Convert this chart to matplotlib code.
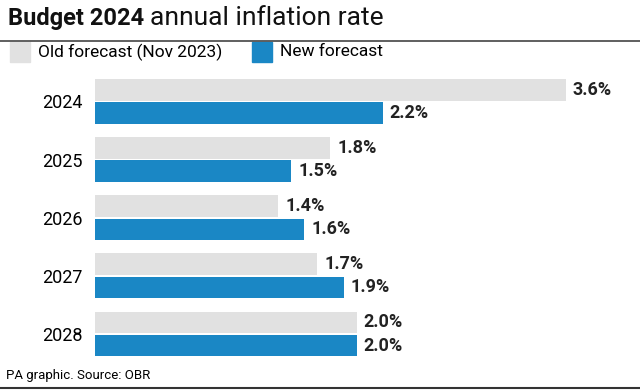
import matplotlib
matplotlib.use("Agg")
import matplotlib.pyplot as plt
from matplotlib.patches import Rectangle
import numpy as np

years = ["2024", "2025", "2026", "2027", "2028"]
old_forecast = [3.6, 1.8, 1.4, 1.7, 2.0]
new_forecast = [2.2, 1.5, 1.6, 1.9, 2.0]
old_labels = ["3.6%", "1.8%", "1.4%", "1.7%", "2.0%"]
new_labels = ["2.2%", "1.5%", "1.6%", "1.9%", "2.0%"]

plt.rcParams['font.family'] = ['Roboto', 'DejaVu Sans']

GREY = "#e1e1e1"
BLUE = "#1a87c5"
W, H = 640, 390
fig = plt.figure(figsize=(W/100, H/100), dpi=100)

def fx(px): return px / W
def fy(py): return 1 - py / H

# Title
t1 = fig.text(fx(8), fy(18), "Budget 2024", fontsize=17, fontweight="bold", va="center", ha="left",
              color="#111111")
fig.canvas.draw()
bb = t1.get_window_extent()
fig.text(bb.x1 / W + fx(6), fy(18), "annual inflation rate", fontsize=19, va="center", ha="left",
         color="#111111")

fig.add_artist(plt.Line2D([0, 1], [fy(41), fy(41)], color="#444444", lw=1.2))

# Legend
fig.add_artist(Rectangle((fx(10), fy(62)), fx(20), 20/H, color=GREY, transform=fig.transFigure))
fig.text(fx(38), fy(52), "Old forecast (Nov 2023)", fontsize=12.5, va="center", ha="left")
fig.add_artist(Rectangle((fx(252), fy(62)), fx(20), 20/H, color=BLUE, transform=fig.transFigure))
fig.text(fx(280), fy(52), "New forecast", fontsize=12.5, va="center", ha="left")

# Axes
ax_top, ax_bot = 72.4, 363.0
ax = fig.add_axes([fx(95), fy(ax_bot), fx(640 - 95), (ax_bot - ax_top) / H])
y = np.arange(len(years))
bh = 0.37
off = 0.2
ax.barh(y - off, old_forecast, height=bh, color=GREY)
ax.barh(y + off, new_forecast, height=bh, color=BLUE)
ax.set_xlim(0, 545 / 130.8)
ax.set_ylim(len(years) - 0.5, -0.5)
for i in range(len(years)):
    ax.annotate(old_labels[i], (old_forecast[i], y[i] - off), xytext=(5, 0), textcoords="offset points",
                va="center", ha="left", fontsize=13, fontweight="bold", color="#222222")
    ax.annotate(new_labels[i], (new_forecast[i], y[i] + off), xytext=(5, 0), textcoords="offset points",
                va="center", ha="left", fontsize=13, fontweight="bold", color="#222222")
ax.set_yticks(y)
ax.set_yticklabels(years, fontsize=13)
ax.tick_params(axis="y", length=0, pad=9)
ax.set_xticks([])
for s in ax.spines.values():
    s.set_visible(False)

# Footer
fig.text(fx(6), fy(376), "PA graphic. Source: OBR", fontsize=9.5, va="center", ha="left")
fig.add_artist(plt.Line2D([0, 1], [fy(388), fy(388)], color="#333333", lw=1.5))

fig.savefig("out.png", dpi=100)
